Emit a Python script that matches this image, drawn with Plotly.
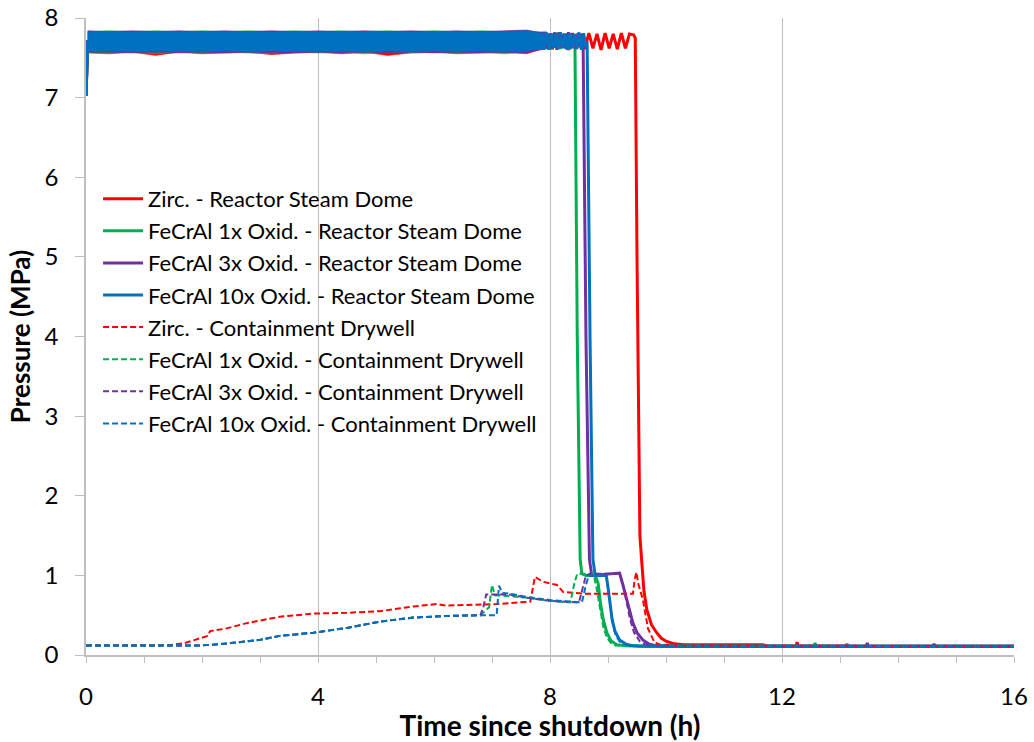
import plotly.graph_objects as go

# ---------------- data ----------------
RED, GREEN, PURPLE, BLUE = "#FF0000", "#00B050", "#7030A0", "#0070C0"

names_dome = ["Zirc. - Reactor Steam Dome", "FeCrAl 1x Oxid. - Reactor Steam Dome",
              "FeCrAl 3x Oxid. - Reactor Steam Dome", "FeCrAl 10x Oxid. - Reactor Steam Dome"]
names_dw = ["Zirc. - Containment Drywell", "FeCrAl 1x Oxid. - Containment Drywell",
            "FeCrAl 3x Oxid. - Containment Drywell", "FeCrAl 10x Oxid. - Containment Drywell"]

# dense oscillation band (envelope of the rapidly cycling steam dome pressure)
band_t = [0.03, 0.4, 0.8, 1.2, 1.6, 2.0, 2.4, 2.8, 3.2, 3.6, 4.0, 4.4, 4.8, 5.2, 5.6,
          6.0, 6.4, 6.8, 7.2, 7.6, 7.9]
red_top = [7.82, 7.81, 7.82, 7.81, 7.82, 7.81, 7.82, 7.81, 7.82, 7.81, 7.82, 7.81, 7.82, 7.81,
           7.82, 7.81, 7.82, 7.81, 7.82, 7.81, 7.80]
red_bot = [7.56, 7.55, 7.57, 7.53, 7.57, 7.55, 7.56, 7.57, 7.54, 7.56, 7.57, 7.55, 7.57, 7.53,
           7.56, 7.57, 7.55, 7.56, 7.57, 7.55, 7.62]
green_top = [7.83, 7.84, 7.83, 7.84, 7.83, 7.84, 7.83, 7.84, 7.83, 7.84, 7.83, 7.84, 7.83, 7.84,
             7.83, 7.84, 7.83, 7.84, 7.83, 7.84, 7.80]
green_bot = [7.57, 7.56, 7.57, 7.55, 7.57, 7.56, 7.57, 7.56, 7.55, 7.57, 7.56, 7.57, 7.55, 7.57,
             7.56, 7.57, 7.56, 7.57, 7.55, 7.57, 7.62]
purple_top = [7.84, 7.83, 7.84, 7.83, 7.84, 7.83, 7.84, 7.83, 7.84, 7.83, 7.84, 7.83, 7.84, 7.83,
              7.84, 7.83, 7.84, 7.83, 7.84, 7.85, 7.81]
purple_bot = [7.57, 7.57, 7.56, 7.57, 7.56, 7.57, 7.56, 7.57, 7.56, 7.56, 7.57, 7.56, 7.57, 7.56,
              7.57, 7.56, 7.57, 7.56, 7.57, 7.56, 7.61]
blue_top = [7.83, 7.83, 7.82, 7.83, 7.83, 7.82, 7.83, 7.83, 7.82, 7.83, 7.83, 7.82, 7.83, 7.83,
            7.82, 7.83, 7.83, 7.82, 7.83, 7.84, 7.81]
blue_bot = [7.58, 7.59, 7.58, 7.59, 7.58, 7.58, 7.59, 7.58, 7.59, 7.58, 7.59, 7.58, 7.58, 7.59,
            7.58, 7.59, 7.58, 7.59, 7.58, 7.59, 7.61]

# steam dome: start, cycling tail, blowdown and low-pressure tail
red_t = [0.0, 0.03, 7.90, 7.97, 8.04, 8.11, 8.18, 8.25, 8.32, 8.39, 8.46, 8.53, 8.60, 8.67, 8.74,
         8.81, 8.88, 8.95, 9.02, 9.09, 9.16, 9.23, 9.30, 9.37, 9.44, 9.47, 9.50, 9.55, 9.58, 9.62,
         9.67, 9.75, 9.84, 9.92, 10.01, 10.15, 10.30, 11.67, 11.75, 12.24, 12.26, 12.28, 16.0]
red_p = [7.02, 7.70, 7.62, 7.80, 7.61, 7.81, 7.62, 7.80, 7.60, 7.81, 7.62, 7.80, 7.61, 7.81, 7.62,
         7.80, 7.60, 7.81, 7.62, 7.80, 7.61, 7.81, 7.62, 7.80, 7.79, 7.75, 5.00, 1.50, 1.19, 0.80,
         0.57, 0.38, 0.28, 0.21, 0.17, 0.14, 0.13, 0.13, 0.11, 0.11, 0.16, 0.11, 0.11]

green_t = [0.0, 0.03, 7.90, 7.94, 7.98, 8.02, 8.06, 8.10, 8.14, 8.18, 8.22, 8.26, 8.30, 8.34, 8.38,
           8.42, 8.43, 8.47, 8.52, 8.55, 8.62, 8.78, 8.83, 8.87, 8.92, 8.98, 9.05, 9.15, 9.30, 9.60,
           12.55, 12.57, 12.59, 13.10, 13.12, 13.14, 16.0]
green_p = [7.02, 7.70, 7.80, 7.62, 7.81, 7.60, 7.80, 7.63, 7.82, 7.61, 7.80, 7.62, 7.81, 7.60, 7.80,
           7.66, 7.70, 4.00, 1.20, 1.02, 1.00, 1.00, 0.90, 0.65, 0.44, 0.28, 0.18, 0.13, 0.115, 0.11,
           0.11, 0.15, 0.11, 0.11, 0.14, 0.11, 0.11]

purple_t = [0.0, 0.03, 7.92, 7.96, 8.00, 8.04, 8.08, 8.12, 8.16, 8.20, 8.24, 8.28, 8.32, 8.36, 8.40,
            8.44, 8.48, 8.52, 8.56, 8.57, 8.62, 8.68, 8.72, 9.20, 9.25, 9.30, 9.36, 9.43, 9.50, 9.60,
            9.70, 9.80, 10.0, 13.45, 13.47, 13.49, 14.60, 14.62, 14.64, 16.0]
purple_p = [7.02, 7.70, 7.81, 7.61, 7.80, 7.62, 7.82, 7.60, 7.81, 7.63, 7.80, 7.61, 7.82, 7.62, 7.80,
            7.61, 7.81, 7.63, 7.80, 7.75, 4.00, 1.20, 1.00, 1.03, 0.90, 0.75, 0.58, 0.40, 0.28, 0.19,
            0.14, 0.12, 0.11, 0.11, 0.15, 0.11, 0.11, 0.14, 0.11, 0.11]

blue_t = [0.0, 0.03, 7.90, 7.94, 7.98, 8.02, 8.06, 8.10, 8.14, 8.18, 8.22, 8.26, 8.30, 8.34, 8.38,
          8.42, 8.46, 8.50, 8.54, 8.58, 8.62, 8.64, 8.69, 8.74, 8.78, 8.97, 9.00, 9.03, 9.07, 9.12,
          9.20, 9.30, 9.40, 9.60, 16.0]
blue_p = [7.02, 7.70, 7.62, 7.82, 7.60, 7.81, 7.63, 7.80, 7.61, 7.82, 7.62, 7.80, 7.60, 7.81, 7.62,
          7.80, 7.61, 7.82, 7.60, 7.81, 7.63, 7.70, 4.00, 1.20, 1.00, 1.00, 0.85, 0.65, 0.45, 0.30,
          0.19, 0.14, 0.12, 0.11, 0.11]

# containment drywell
red_dw_t = [0.0, 1.40, 1.70, 1.97, 2.10, 2.14, 2.40, 2.77, 3.34, 3.92, 4.50, 5.07, 5.65, 6.05, 6.20,
            7.08, 7.66, 7.74, 7.88, 8.12, 8.23, 8.60, 9.43, 9.46, 9.49, 9.52, 9.60, 9.69, 9.80, 9.90,
            10.20, 16.0]
red_dw_p = [0.12, 0.12, 0.15, 0.21, 0.24, 0.30, 0.33, 0.40, 0.48, 0.52, 0.53, 0.55, 0.61, 0.64, 0.62,
            0.64, 0.67, 0.98, 0.92, 0.88, 0.79, 0.77, 0.77, 0.95, 1.04, 0.90, 0.70, 0.33, 0.16, 0.13,
            0.12, 0.11]

green_dw_t = [0.0, 2.00, 2.50, 3.00, 3.34, 3.92, 4.50, 5.07, 5.64, 6.22, 6.80, 6.95, 7.00, 7.05, 7.30,
              7.60, 8.00, 8.35, 8.42, 8.47, 8.75, 8.80, 8.86, 8.92, 8.98, 9.05, 9.13, 16.0]
green_dw_p = [0.12, 0.12, 0.15, 0.19, 0.24, 0.28, 0.34, 0.42, 0.47, 0.49, 0.50, 0.60, 0.88, 0.75, 0.74,
              0.72, 0.68, 0.66, 0.90, 1.02, 1.02, 0.85, 0.60, 0.35, 0.22, 0.15, 0.12, 0.11]

purple_dw_t = [0.0, 2.00, 2.50, 3.00, 3.34, 3.92, 4.50, 5.07, 5.64, 6.22, 6.80, 6.85, 6.90, 7.30,
               7.60, 8.00, 8.50, 8.56, 8.62, 8.70, 9.20, 9.27, 9.33, 9.38, 9.45, 9.55, 9.65, 9.80, 16.0]
purple_dw_p = [0.12, 0.12, 0.15, 0.19, 0.24, 0.28, 0.34, 0.42, 0.47, 0.49, 0.50, 0.60, 0.76, 0.76,
               0.72, 0.68, 0.66, 0.85, 1.00, 1.02, 1.02, 0.85, 0.65, 0.45, 0.28, 0.17, 0.13, 0.12, 0.11]

blue_dw_t = [0.0, 2.00, 2.50, 3.00, 3.34, 3.92, 4.50, 5.07, 5.64, 6.22, 6.80, 7.08, 7.12, 7.18, 7.30,
             7.60, 8.00, 8.55, 8.62, 8.67, 8.97, 9.00, 9.04, 9.08, 9.13, 9.20, 9.30, 9.45, 16.0]
blue_dw_p = [0.12, 0.12, 0.15, 0.19, 0.24, 0.28, 0.34, 0.42, 0.47, 0.49, 0.50, 0.50, 0.87, 0.78, 0.77,
             0.73, 0.69, 0.66, 0.88, 1.00, 1.00, 0.85, 0.60, 0.40, 0.25, 0.17, 0.13, 0.115, 0.11]

x_ticks = [0, 4, 8, 12, 16]
y_ticks = [0, 1, 2, 3, 4, 5, 6, 7, 8]

# ---------------- figure ----------------
FONT = "Lato"
fig = go.Figure()

dome = [(red_t, red_p, red_top, red_bot, RED),
        (green_t, green_p, green_top, green_bot, GREEN),
        (purple_t, purple_p, purple_top, purple_bot, PURPLE),
        (blue_t, blue_p, blue_top, blue_bot, BLUE)]
for i, (t, p, top, bot, col) in enumerate(dome):
    fig.add_trace(go.Scatter(x=band_t + band_t[::-1], y=top + bot[::-1], fill="toself",
                             fillcolor=col, mode="lines", line=dict(color=col, width=0.5),
                             showlegend=False, hoverinfo="skip"))
    fig.add_trace(go.Scatter(x=t, y=p, mode="lines", name=names_dome[i], legendgroup=f"d{i}",
                             line=dict(color=col, width=3)))

drywell = [(red_dw_t, red_dw_p, RED), (green_dw_t, green_dw_p, GREEN),
           (purple_dw_t, purple_dw_p, PURPLE), (blue_dw_t, blue_dw_p, BLUE)]
for i, (t, p, col) in enumerate(drywell):
    fig.add_trace(go.Scatter(x=t, y=p, mode="lines", name=names_dw[i], legendgroup=f"w{i}",
                             line=dict(color=col, width=2, dash="6px,3px")))

AX = "#BFBFBF"
fig.update_layout(
    width=1034, height=742,
    margin=dict(l=86, r=20, t=18, b=87),
    paper_bgcolor="white", plot_bgcolor="white",
    font=dict(family=FONT, color="#000000"),
    legend=dict(x=0.013, y=0.749, xanchor="left", yanchor="top", bgcolor="rgba(0,0,0,0)",
                font=dict(family=FONT, size=22, color="#000000"), tracegroupgap=0.5,
                itemwidth=40),
    xaxis=dict(range=[0, 16], tickvals=x_ticks, showgrid=True, gridcolor=AX, gridwidth=1,
               showline=True, linecolor=AX, linewidth=1.5, ticks="outside", ticklen=6,
               tickcolor=AX, tickfont=dict(family=FONT, size=24, color="#000000"),
               ticklabelstandoff=13, zeroline=False, automargin=False,
               minor=dict(dtick=1, ticks="outside", ticklen=6, tickcolor=AX, showgrid=False),
               title=dict(text="<b>Time since shutdown (h)</b>", standoff=0,
                          font=dict(family=FONT, size=28, color="#000000"))),
    yaxis=dict(range=[0, 8], tickvals=y_ticks, showgrid=False, zeroline=False,
               showline=True, linecolor=AX, linewidth=1.5, ticks="outside", ticklen=9,
               tickcolor=AX, tickfont=dict(family=FONT, size=24, color="#000000"),
               ticklabelstandoff=12, automargin=False,
               title=dict(text="<b>Pressure (MPa)</b>", standoff=6,
                          font=dict(family=FONT, size=26, color="#000000"))),
)

fig.write_html("out.html")
